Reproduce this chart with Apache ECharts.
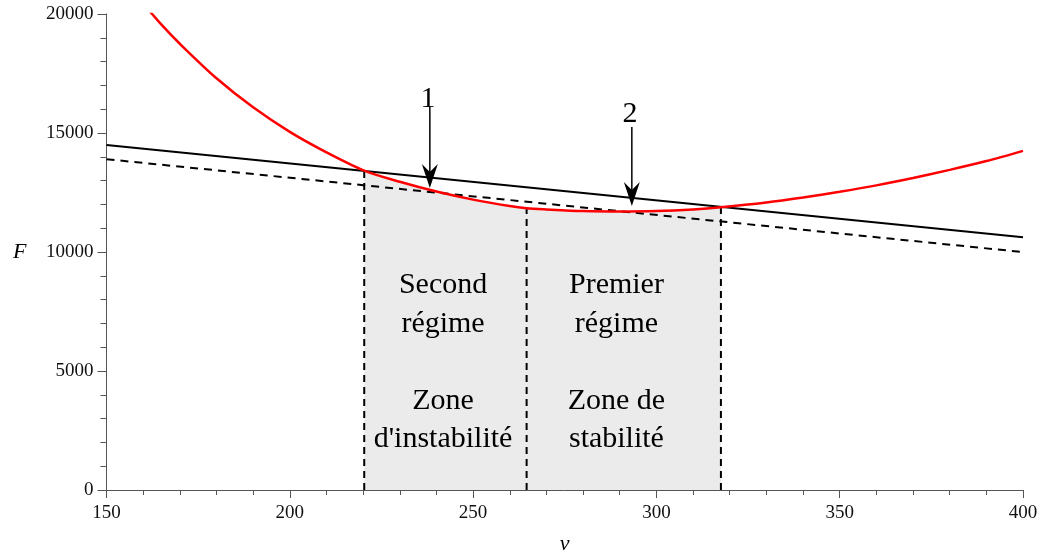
<!DOCTYPE html>
<html>
<head>
    <meta charset="utf-8">
    <title>F(v)</title>
    <script src="https://cdn.jsdelivr.net/npm/echarts@6/dist/echarts.min.js"></script>
    <style>
        html, body {margin: 0; padding: 0; background: #fff;}
        #main {width: 1042px; height: 552px;}
    </style>
</head>
<body>
<div id="main"></div>
<script type="text/javascript">
    // courbe rouge F(v)
    const redV = [160, 165, 170, 180, 190, 200, 210, 220.3, 230, 240, 250, 260, 264.6, 270, 280, 290, 300, 310, 317.6, 330, 340, 350, 360, 370, 380, 390, 400];
    const redF = [20450, 19550, 18750, 17300, 16080, 15050, 14190, 13420, 12950, 12540, 12200, 11930, 11840, 11790, 11720, 11700, 11720, 11790, 11880, 12080, 12290, 12530, 12800, 13110, 13450, 13820, 14250];
    // droite pleine et droite en pointillés
    const solidV = [150, 400];
    const solidF = [14500, 10620];
    const dashV = [150, 403];
    const dashF = [13900, 9950];
    // verticales pointillées (v, F en haut)
    const vertV = [220.3, 264.6, 317.6];
    const vertTop = [13420, 11840, 11880];
    // zone grisée
    const zoneFrom = 220.3;
    const zoneTo = 317.6;
    // flèches 1 et 2
    const arrowNames = ['1', '2'];
    const arrowV = [238.2, 293.3];
    const arrowTop = [16090, 15250];
    const arrowTip = [12690, 11930];
    const arrowLabelF = [16420, 15790];
    // textes
    const zoneText = ['Second\nrégime\n\nZone\nd\'instabilité', 'Premier\nrégime\n\nZone de\nstabilité'];
    const zoneTextV = [241.8, 289.1];
    const zoneTextF = [5370, 5370];

    const serif = 'Liberation Serif';
    const chart = echarts.init(document.getElementById('main'));

    const redData = redV.map((v, i) => [v, redF[i]]);
    const zoneData = redData.filter(p => p[0] >= zoneFrom && p[0] <= zoneTo);

    const series = [
        {
            name: 'zone', type: 'line', data: zoneData, smooth: 0.3, symbol: 'none',
            lineStyle: {width: 0}, areaStyle: {color: '#ebebeb', opacity: 1}, z: 1, silent: true
        },
        {
            name: 'droite', type: 'line', data: solidV.map((v, i) => [v, solidF[i]]), symbol: 'none',
            lineStyle: {color: '#000', width: 2}, z: 3
        },
        {
            name: 'tangente', type: 'line', data: dashV.map((v, i) => [v, dashF[i]]), symbol: 'none', clip: false,
            lineStyle: {color: '#000', width: 2, type: [8, 6]}, z: 3
        },
        {
            name: 'F', type: 'line', data: redData, smooth: 0.3, symbol: 'none',
            lineStyle: {color: '#ff0000', width: 2.5}, z: 4
        }
    ];

    vertV.forEach((v, i) => {
        series.push({
            type: 'line', data: [[v, 0], [v, vertTop[i]]], symbol: 'none',
            lineStyle: {color: '#000', width: 2, type: [7, 5]}, z: 3
        });
    });

    arrowV.forEach((v, i) => {
        series.push({
            type: 'line', data: [[v, arrowTop[i]], [v, arrowTip[i] + 300]], symbol: 'none',
            lineStyle: {color: '#000', width: 1.5}, z: 5
        });
    });

    // pointes de flèche
    series.push({
        type: 'scatter', data: arrowV.map((v, i) => [v, arrowTip[i]]),
        symbol: 'path://M0,0 L8,8 L16,0 L8,24 Z', symbolSize: [16, 24], symbolKeepAspect: false,
        symbolOffset: [0, -12], itemStyle: {color: '#000', opacity: 1}, z: 6, silent: true
    });

    const textLabel = {show: true, position: 'inside', formatter: p => p.name, fontFamily: serif, color: '#000'};

    // étiquettes 1, 2
    series.push({
        type: 'scatter', data: arrowV.map((v, i) => ({value: [v - 0.5, arrowLabelF[i]], name: arrowNames[i]})),
        symbolSize: 1, itemStyle: {color: 'rgba(0,0,0,0)', opacity: 1}, z: 6, silent: true,
        label: Object.assign({}, textLabel, {fontSize: 30})
    });

    // textes des zones
    series.push({
        type: 'scatter', data: zoneTextV.map((v, i) => ({value: [v, zoneTextF[i]], name: zoneText[i]})),
        symbolSize: 1, itemStyle: {color: 'rgba(0,0,0,0)', opacity: 1}, z: 6, silent: true,
        label: Object.assign({}, textLabel, {fontSize: 30, lineHeight: 38.5, align: 'center'})
    });

    const option = {
        animation: false,
        backgroundColor: '#fff',
        grid: {left: 106.5, right: 19, top: 14, bottom: 62, outerBoundsMode: 'none', containLabel: false},
        xAxis: {
            type: 'value', min: 150, max: 400, interval: 50,
            name: 'v', nameLocation: 'middle', nameGap: 43,
            nameTextStyle: {fontFamily: serif, fontStyle: 'italic', fontSize: 22, color: '#000'},
            axisLine: {show: true, lineStyle: {color: '#555', width: 1}},
            axisTick: {show: true, length: 8, lineStyle: {color: '#555'}},
            minorTick: {show: true, splitNumber: 5, length: 5, lineStyle: {color: '#555'}},
            splitLine: {show: false},
            axisLabel: {fontFamily: serif, fontSize: 19, color: '#111', margin: 14, formatter: v => String(v)}
        },
        yAxis: {
            type: 'value', min: 0, max: 20000, interval: 5000,
            name: 'F', nameLocation: 'middle', nameGap: 80, nameRotate: 0,
            nameTextStyle: {fontFamily: serif, fontStyle: 'italic', fontSize: 22, color: '#000'},
            axisLine: {show: true, lineStyle: {color: '#555', width: 1}},
            axisTick: {show: true, length: 9, lineStyle: {color: '#555'}},
            minorTick: {show: true, splitNumber: 5, length: 6, lineStyle: {color: '#555'}},
            splitLine: {show: false},
            axisLabel: {fontFamily: serif, fontSize: 19, color: '#111', margin: 13, formatter: v => String(v)}
        },
        series: series
    };

    option && chart.setOption(option);
</script>
</body>
</html>
